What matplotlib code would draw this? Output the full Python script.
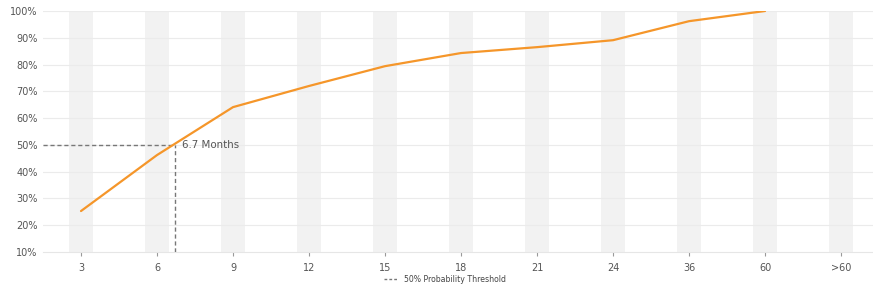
import numpy as np
import matplotlib.pyplot as plt

# months until milestone (categorical x), cumulative probability in %
months = ["3", "6", "9", "12", "15", "18", "21", "24", "36", "60", ">60"]
prob = [25.3, 46.2, 64.1, 72.0, 79.4, 84.3, 86.5, 89.1, 96.2, 100.0]
threshold_month = 6.7
threshold_prob = 50
yticks = [10, 20, 30, 40, 50, 60, 70, 80, 90, 100]

fig = plt.figure(figsize=(8.73, 2.92), dpi=100)
ax = fig.add_axes([43 / 873, 40 / 292, 830 / 873, 241 / 292])

x = np.arange(len(months))

# alternating shaded bands under each category
for xi in x:
    ax.axvspan(xi - 0.16, xi + 0.16, color="#f2f2f2", lw=0, zorder=0)

for yv in yticks[1:]:
    ax.axhline(yv, color="#ebebeb", lw=0.8, zorder=1)

ax.plot(x[:len(prob)], prob, color="#f5962a", lw=1.6, zorder=4,
        solid_capstyle="round", solid_joinstyle="round")

# 6.7 months sits between "6" and "9"
tx = 1 + (threshold_month - 6) / 3
ax.plot([-0.5, tx], [threshold_prob, threshold_prob], color="#777777", lw=1,
        ls=(0, (3, 2)), zorder=3)
ax.plot([tx, tx], [10, threshold_prob], color="#777777", lw=1,
        ls=(0, (3, 2)), zorder=3)
ax.text(tx + 0.09, threshold_prob, f"{threshold_month} Months", color="#555555",
        fontsize=7.4, va="center", ha="left")

ax.set_xlim(-0.5, 10.42)
ax.set_ylim(10, 100)
ax.set_xticks(x)
ax.set_xticklabels(months)
ax.set_yticks(yticks)
ax.set_yticklabels([f"{v}%" for v in yticks])

for side in ["top", "right", "left"]:
    ax.spines[side].set_visible(False)
ax.spines["bottom"].set_color("#e6e6e6")
ax.tick_params(axis="x", colors="#999999", labelcolor="#555555", labelsize=7,
               length=3, width=0.8, pad=5)
ax.tick_params(axis="y", length=0, labelcolor="#555555", labelsize=7, pad=4)

# legend below the axes
fig.lines.append(plt.Line2D([384 / 873, 398 / 873], [13 / 292, 13 / 292],
                            transform=fig.transFigure, color="#777777",
                            lw=1, ls=(0, (2, 1.5))))
fig.text(404 / 873, 13 / 292, "50% Probability Threshold", fontsize=5.6,
         color="#444444", va="center", ha="left")

fig.savefig("out.png", dpi=100)
